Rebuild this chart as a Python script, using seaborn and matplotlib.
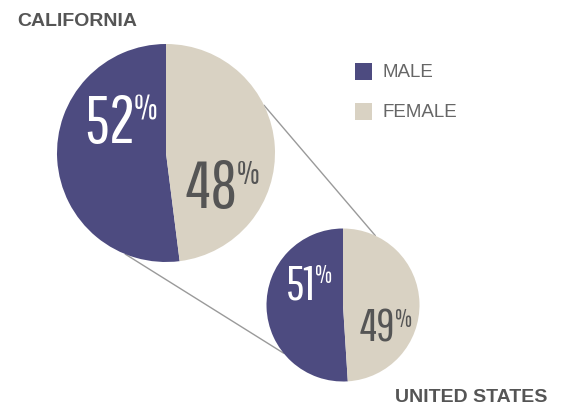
import numpy as np
import matplotlib
matplotlib.use('Agg')
import matplotlib.pyplot as plt
from matplotlib import font_manager
from matplotlib.font_manager import FontProperties
from matplotlib.textpath import TextPath
import seaborn as sns

labels = ['MALE', 'FEMALE']
california = [52, 48]
united_states = [51, 49]
colors = ['#4d4b80', '#d9d2c3']

sns.set_theme(style='white')
plt.rcParams['font.family'] = ['Liberation Sans', 'DejaVu Sans']

# pick a light condensed face for the big numbers
num_fp = None
for fam in ['Oswald Light', 'Oswald ExtraLight', 'Pathway Gothic One', 'Oswald',
            'Asap Condensed']:
    faces = [f for f in font_manager.fontManager.ttflist if f.name == fam]
    if faces:
        best = min(faces, key=lambda f: abs(int(f.weight) - 300)
                   if str(f.weight).isdigit() else 999)
        num_fp = FontProperties(fname=best.fname)
        break
if num_fp is None:
    num_fp = FontProperties(family='DejaVu Sans')

W, H = 562, 410
fig = plt.figure(figsize=(W / 100, H / 100), dpi=100)
ax = fig.add_axes([0, 0, 1, 1])

ca_c, ca_r = (166, H - 154), 109
us_c, us_r = (343, H - 306), 76.5

def on_circle(c, r, deg):
    a = np.deg2rad(deg)
    return c[0] + r * np.cos(a), c[1] + r * np.sin(a)

for a1, a2 in [(26, 65), (248, 219)]:
    p1 = on_circle(ca_c, ca_r, a1)
    p2 = on_circle(us_c, us_r, a2)
    ax.plot([p1[0], p2[0]], [p1[1], p2[1]], color='#9a9a9a', lw=1, zorder=0)

ax.pie(california, colors=colors, startangle=90, counterclock=True,
       center=ca_c, radius=ca_r, wedgeprops=dict(linewidth=0))
ax.pie(united_states, colors=colors, startangle=90, counterclock=True,
       center=us_c, radius=us_r, wedgeprops=dict(linewidth=0))

def size_for(s, px_h):
    ext = TextPath((0, 0), s, size=100, prop=num_fp).get_extents()
    return px_h * 72 / ext.height, ext.width / 100, ext.x0 / 100

def pct(x_left, y_top, value, num_h, sign_h, color):
    s = str(value)
    fs, wfac, x0 = size_for(s, num_h)
    fs2, _, x02 = size_for('%', sign_h)
    px_per_pt = 100 / 72
    ax.text(x_left - x0 * fs * px_per_pt, H - y_top - num_h, s, ha='left',
            va='baseline', fontsize=fs, color=color, fontproperties=num_fp)
    xr = x_left + wfac * fs * px_per_pt + 3
    ax.text(xr - x02 * fs2 * px_per_pt, H - y_top - sign_h, '%', ha='left',
            va='baseline', fontsize=fs2, color=color, fontproperties=num_fp)

pct(87, 95, california[0], 48, 25, 'white')
pct(186, 160, california[1], 48, 24, '#555555')
pct(288, 265, united_states[0], 35, 18, 'white')
pct(360, 309, united_states[1], 33, 18, '#555555')

ax.text(17, H - 21, 'CALIFORNIA', ha='left', va='center', fontsize=14,
        fontweight='bold', color='#555555')
ax.text(547, H - 398, 'UNITED STATES', ha='right', va='center', fontsize=14,
        fontweight='bold', color='#555555')

for i, lab in enumerate(labels):
    y = H - (72.5 + i * 40)
    ax.add_patch(plt.Rectangle((355, y - 8.5), 17, 17, color=colors[i], lw=0))
    ax.text(382, y, lab, ha='left', va='center', fontsize=13.5, color='#666666')

ax.set_xlim(0, W)
ax.set_ylim(0, H)
ax.set_aspect('auto')
ax.axis('off')

fig.savefig('out.png', dpi=100, facecolor='white')
